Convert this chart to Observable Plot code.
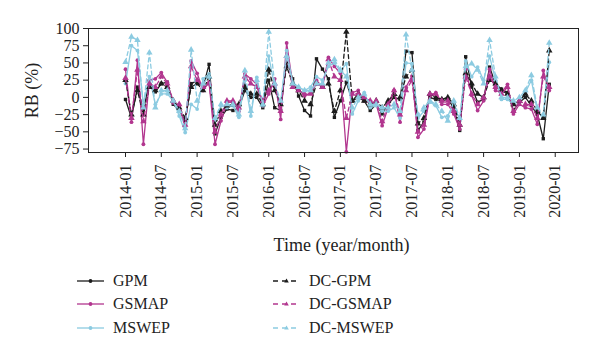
<!DOCTYPE html>
<html><head><meta charset="utf-8">
<script src="https://cdn.jsdelivr.net/npm/d3@7"></script>
<script src="https://cdn.jsdelivr.net/npm/@observablehq/plot@0.6"></script>
<style>
body{margin:0;background:#fff;font-family:"Liberation Serif",serif;}
#wrap{width:600px;height:356px;position:relative;overflow:hidden;background:#fff}
.legend{display:grid;grid-template-columns:196px 220px;grid-auto-rows:23.5px;padding-left:77px;padding-top:7px;font-size:16px;color:#222}
.item{display:flex;align-items:center;gap:9px}
</style></head><body><div id="wrap"><div id="chart"></div><div class="legend" id="legend"></div></div>
<script>
// x tick labels as printed on the reference (one every 6 months)
const xTickLabels = ["2014-01","2014-07","2015-01","2015-07","2016-01","2016-07","2017-01","2017-07","2017-07","2018-01","2018-07","2019-01","2020-01"];
const yTicks = [-75,-50,-25,0,25,50,75,100];
const seriesNames = ["GPM","GSMAP","MSWEP","DC-GPM","DC-GSMAP","DC-MSWEP"];

const GPM = [-3,-30,15,-19,24,8,20,22,-10,-19,-34,20,24,15,48,-53,-29,-17,-19,-15,10,0,0,-15,25,-15,-19,55,27,2,-19,-27,56,41,27,-29,-5,22,-5,0,-5,-19,-10,-24,-10,0,-3,67,65,-48,-36,0,-3,-5,-3,-15,-48,59,15,-7,-3,44,19,12,7,-19,-7,0,-12,-25,-60,19];
const GSMAP = [41,-36,54,-68,25,27,36,22,-8,-12,-44,53,35,10,22,-68,-34,-7,-7,-20,34,27,19,-12,5,27,-32,79,20,12,2,7,25,15,58,45,35,-79,7,10,-5,-7,-10,-41,-15,10,-36,15,31,-58,-46,2,7,-10,-10,-24,-46,41,3,-19,-5,41,10,7,19,-24,-10,-15,-17,-39,39,10];
const MSWEP = [20,75,68,-10,30,-10,5,5,-5,-27,-51,-10,-17,27,34,-34,-12,-15,-12,-29,25,-27,29,-12,60,15,-10,68,22,15,10,15,30,25,45,50,38,49,-24,-5,7,-15,-12,-20,-20,-15,-30,50,49,-30,-20,-7,-12,-29,-27,-7,-34,53,30,44,25,60,25,-3,-3,-10,-5,7,25,-20,-29,51];
const DC_GPM = [25,-25,10,-25,15,10,20,15,-5,-15,-30,15,20,10,30,-40,-20,-12,-10,-10,15,5,5,-10,40,10,-10,45,20,10,-5,-10,20,15,20,-20,10,95,-5,5,-5,-10,-5,-15,-5,5,0,30,40,-38,-30,5,0,-3,0,-10,-40,35,20,5,0,25,20,10,5,-10,-5,5,-5,-20,-30,68];
const DC_GSMAP = [28,-30,40,-35,20,15,30,20,-5,-10,-40,45,25,15,20,-50,-25,-5,-5,-15,30,20,15,-5,10,20,-20,60,15,10,5,5,20,15,55,30,25,-30,5,5,0,-5,-5,-35,-10,10,-25,10,25,-50,-40,5,5,-5,-5,-20,-40,30,5,-10,0,30,15,5,15,-20,-5,-10,-10,-30,30,15];
const DC_MSWEP = [51,88,83,-15,65,-15,10,10,-5,-20,-45,69,-5,20,30,-30,-10,-10,-10,-25,39,-20,25,-10,95,20,-5,60,20,15,10,10,20,20,50,55,40,30,-15,0,5,-10,-10,-15,-15,-10,-20,91,40,-25,-15,-5,-10,-20,-34,-5,-30,45,49,40,20,83,30,0,0,-5,0,10,32,-15,-25,79];

const values = [GPM, GSMAP, MSWEP, DC_GPM, DC_GSMAP, DC_MSWEP];
const colors = {"GPM":"#1c1c1c","GSMAP":"#b2368f","MSWEP":"#8ccbe1","DC-GPM":"#1c1c1c","DC-GSMAP":"#b2368f","DC-MSWEP":"#8ccbe1"};
const dashed = {"GPM":false,"GSMAP":false,"MSWEP":false,"DC-GPM":true,"DC-GSMAP":true,"DC-MSWEP":true};
const symbols = {"GPM":"square","GSMAP":"circle","MSWEP":"circle","DC-GPM":"triangle","DC-GSMAP":"triangle","DC-MSWEP":"triangle"};

const table = [];
seriesNames.forEach((s, k) => values[k].forEach((v, i) => table.push({series: s, i, v})));

const seriesMarks = [];
for (const s of seriesNames) {
  const d = table.filter(r => r.series === s);
  seriesMarks.push(Plot.line(d, {x: "i", y: "v", stroke: colors[s], strokeWidth: 1.3, strokeDasharray: dashed[s] ? "4,3" : null}));
  seriesMarks.push(Plot.dot(d, {x: "i", y: "v", fill: colors[s], symbol: symbols[s], r: symbols[s] === "triangle" ? 2.4 : 1.9}));
}

const chart = Plot.plot({
  width: 600, height: 262,
  marginLeft: 88, marginRight: 22, marginTop: 28, marginBottom: 110,
  style: {fontFamily: "Liberation Serif", fontSize: "16px", background: "#fff", color: "#222"},
  x: {type: "linear", domain: [-6.2, 75.9]},
  y: {domain: [-80, 100]},
  marks: [
    Plot.axisY({ticks: yTicks, tickSize: 5, tickPadding: 4, label: null, fontSize: 16}),
    Plot.axisX({ticks: d3.range(0, 73, 6), tickFormat: d => xTickLabels[d / 6], tickRotate: -90, tickSize: 5, tickPadding: 7, label: null, fontSize: 16}),
    Plot.text(["RB (%)"], {text: d => d, frameAnchor: "left", rotate: -90, dx: -56, textAnchor: "middle", lineAnchor: "middle", fontSize: 18}),
    Plot.text(["Time (year/month)"], {text: d => d, frameAnchor: "bottom", dy: 93, dx: 8, textAnchor: "middle", lineAnchor: "middle", fontSize: 18}),
    ...seriesMarks,
    Plot.frame({stroke: "#222"})
  ]
});
document.getElementById("chart").appendChild(chart);

const legend = document.getElementById("legend");
const order = ["GPM","DC-GPM","GSMAP","DC-GSMAP","MSWEP","DC-MSWEP"];
for (const s of order) {
  const item = document.createElement("div");
  item.className = "item";
  const c = colors[s];
  const marker = symbols[s] === "triangle"
    ? `<path d="M13.5,3.6 L15.8,7.6 L11.2,7.6 Z" fill="${c}"/>`
    : `<circle cx="13.5" cy="6" r="1.9" fill="${c}"/>`;
  item.innerHTML = `<svg width="27" height="12"><line x1="0" x2="27" y1="6" y2="6" stroke="${c}" stroke-width="1.3" ${dashed[s] ? 'stroke-dasharray="5,4"' : ''}/>${marker}</svg><span>${s}</span>`;
  legend.appendChild(item);
}
</script></body></html>
